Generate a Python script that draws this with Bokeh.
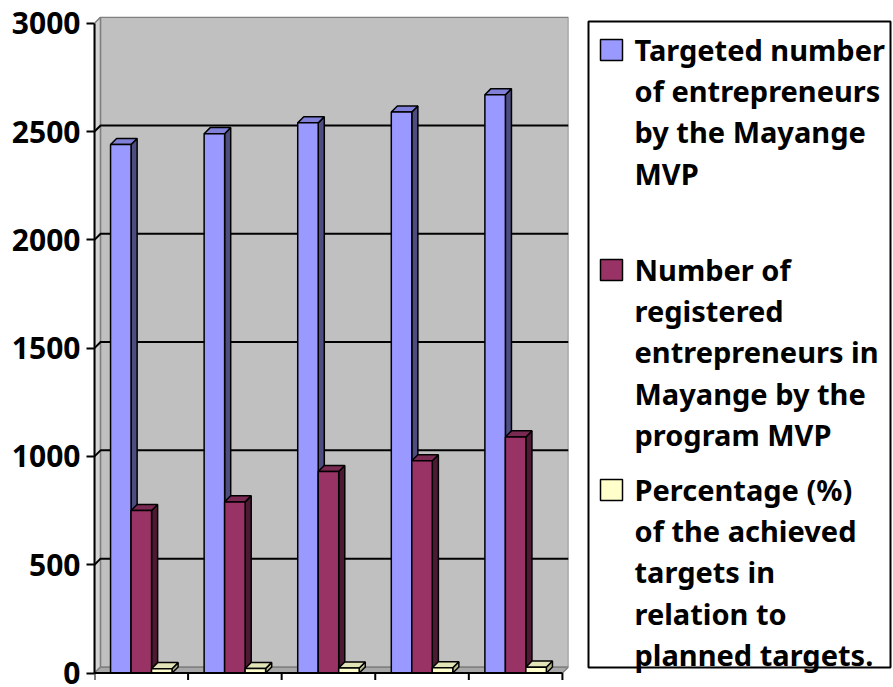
from bokeh.plotting import figure
from bokeh.models import Range1d, FixedTicker, LinearAxis
from bokeh.layouts import row
from bokeh.embed import file_html
from bokeh.resources import INLINE
from bokeh.core.properties import value

# ---------------- data ----------------
groups = ["1", "2", "3", "4", "5"]
targeted = [2440, 2490, 2540, 2590, 2670]
registered = [750, 790, 930, 980, 1090]
percentage = [20, 21, 23, 24, 27]
y_ticks = [0, 500, 1000, 1500, 2000, 2500, 3000]

series_labels = [
    ["Targeted number", "of entrepreneurs", "by the Mayange", "MVP"],
    ["Number of", "registered", "entrepreneurs in", "Mayange by the", "program MVP"],
    ["Percentage (%)", "of the achieved", "targets in", "relation to", "planned targets."],
]
front_colors = ["#9999FF", "#993366", "#FFFFCC"]
side_colors = ["#4D4D80", "#4D1A33", "#B8B890"]
top_colors = ["#8080D8", "#7A2952", "#E3E3B8"]

FONT = "Noto Sans"

# ---------------- chart ----------------
n = len(groups)
dx, dy = 0.065, 28          # depth of the 3-D effect (data units)
w = 0.219                    # bar width (category units)
tick_len = 32                # x tick length (data units)
BT, BB = 16, 7               # top / bottom borders shared by both panels

p = figure(width=580, height=687, x_range=Range1d(0, n + dx), y_range=Range1d(-34.6, 3031),
           output_backend="svg", toolbar_location=None, title=None,
           x_axis_type=None, y_axis_type=None,
           min_border_left=94, min_border_right=12, min_border_top=BT, min_border_bottom=BB)
p.outline_line_color = None
p.background_fill_color = "white"
p.border_fill_color = "white"

top_val = y_ticks[-1]
# walls
p.patch([0, dx, dx, 0], [0, dy, top_val + dy, top_val], fill_color="#D4D4D4",
        line_color="#808080", line_width=1.5)
p.patch([0, n, n + dx, dx], [0, 0, dy, dy], fill_color="#A8A8A8",
        line_color="#808080", line_width=1.5)
p.quad(left=[dx], right=[n + dx], bottom=[dy], top=[top_val + dy], fill_color="#C0C0C0",
       line_color="#808080", line_width=1.5)

# gridlines (left wall + back wall)
gx, gy = [], []
for v in y_ticks[1:-1]:
    gx.append([0, dx, n + dx])
    gy.append([v, v + dy, v + dy])
p.multi_line(gx, gy, line_color="black", line_width=2)

# bars
for s, vals in enumerate([targeted, registered, percentage]):
    lefts = [i + 0.5 + (s - 1.5) * w for i in range(n)]
    rights = [l + w for l in lefts]
    side_xs = [[r, r + dx, r + dx, r] for r in rights]
    side_ys = [[0, dy, v + dy, v] for v in vals]
    top_xs = [[l, r, r + dx, l + dx] for l, r in zip(lefts, rights)]
    top_ys = [[v, v, v + dy, v + dy] for v in vals]
    p.patches(side_xs, side_ys, fill_color=side_colors[s], line_color="black", line_width=1.5)
    p.patches(top_xs, top_ys, fill_color=top_colors[s], line_color="black", line_width=1.5)
    p.quad(left=lefts, right=rights, bottom=[0] * n, top=vals,
           fill_color=front_colors[s], line_color="black", line_width=1.5)

# category axis (line + tick marks between categories, no labels)
p.segment(x0=[0], y0=[0], x1=[n], y1=[0], line_color="black", line_width=2)
p.segment(x0=list(range(n + 1)), y0=[0] * (n + 1), x1=list(range(n + 1)),
          y1=[-tick_len] * (n + 1), line_color="black", line_width=2)

yaxis = LinearAxis(ticker=FixedTicker(ticks=y_ticks, minor_ticks=[]), bounds=(0, top_val),
                   axis_line_width=2, axis_line_color="black",
                   major_tick_line_width=2, major_tick_line_color="black",
                   major_tick_out=8, major_tick_in=0, minor_tick_out=0, minor_tick_in=0,
                   major_label_text_font=FONT, major_label_text_font_style="bold",
                   major_label_text_font_size="30px", major_label_text_color="black",
                   major_label_standoff=6)
p.add_layout(yaxis, "left")

# ---------------- legend (data units = page pixels) ----------------
LW, LH = 313, 687
L = figure(width=LW, height=LH, x_range=Range1d(0, LW), y_range=Range1d(LH - BB, BT),
           output_backend="svg", toolbar_location=None, title=None,
           x_axis_type=None, y_axis_type=None,
           min_border_left=0, min_border_right=0, min_border_top=BT, min_border_bottom=BB)
L.outline_line_color = None
L.background_fill_color = "white"
L.border_fill_color = "white"

L.quad(left=[8], right=[310], top=[21], bottom=[667], fill_color=None,
       line_color="black", line_width=2)

baselines = [60, 280, 500]
line_gap = 41.2
text_shift = -11
for s, lines in enumerate(series_labels):
    b = baselines[s]
    L.quad(left=[20], right=[42], top=[b - 21], bottom=[b], fill_color=front_colors[s],
           line_color="black", line_width=1.5)
    L.text(x=[54] * len(lines), y=[b + text_shift + k * line_gap for k in range(len(lines))],
           text=lines, text_font=value(FONT), text_font_style="bold", text_font_size="29px",
           text_color="black", text_baseline="alphabetic", text_align="left")

layout = row(p, L, spacing=0)
open("out.html", "w").write(file_html(layout, INLINE))
